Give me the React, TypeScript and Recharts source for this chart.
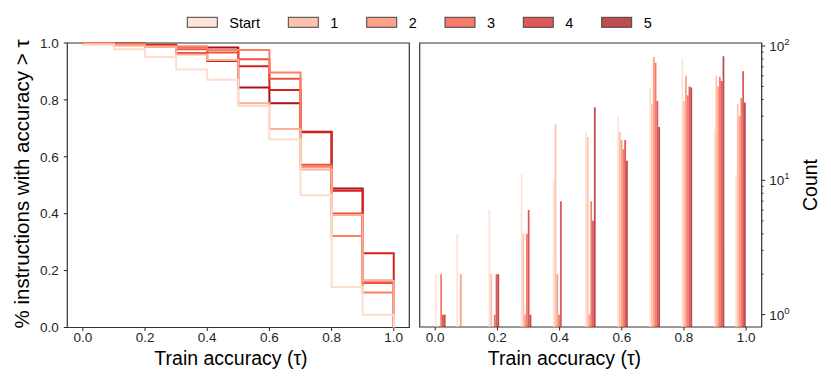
import React from 'react';
import { LineChart, Line, XAxis, YAxis, BarChart, Bar, ReferenceArea } from 'recharts';

// ---------- data ----------
const SERIES = ['Start', '1', '2', '3', '4', '5'];
const KEYS = ['s0', 's1', 's2', 's3', 's4', 's5'];
const COLORS = ['#fedbcb', '#fcaf94', '#fc8161', '#f44f39', '#d52221', '#aa1016'];

// Left panel: % instructions with accuracy > tau (step curves)
const TAU = [0, 0.1, 0.2, 0.3, 0.4, 0.5, 0.6, 0.7, 0.8, 0.9, 1.0];
const FRAC_START = [0.993, 0.978, 0.951, 0.907, 0.871, 0.779, 0.661, 0.465, 0.142, 0.045, 0];
const FRAC_1 = [0.997, 0.99, 0.987, 0.96, 0.94, 0.788, 0.698, 0.555, 0.395, 0.164, 0];
const FRAC_2 = [0.998, 0.996, 0.987, 0.987, 0.975, 0.975, 0.896, 0.565, 0.322, 0.123, 0];
const FRAC_3 = [0.998, 0.996, 0.99, 0.978, 0.967, 0.943, 0.874, 0.572, 0.401, 0.156, 0];
const FRAC_4 = [0.999, 0.996, 0.992, 0.964, 0.937, 0.918, 0.835, 0.686, 0.481, 0.261, 0];
const FRAC_5 = [0.999, 0.998, 0.994, 0.987, 0.984, 0.844, 0.788, 0.688, 0.489, 0.164, 0];
const FRACS = [FRAC_START, FRAC_1, FRAC_2, FRAC_3, FRAC_4, FRAC_5];

// Right panel: histogram (29 bins on [0,1]); only non-empty bins listed by center
const BIN_CENTERS = [0.0172, 0.0862, 0.1897, 0.2931, 0.3966, 0.5, 0.6034, 0.7069, 0.8103, 0.9138, 0.9828];
const COUNT_START = [2, 4, 6, 11, 10, 23, 30, 49, 80, 24, 11];
const COUNT_1 = [null, null, 2, 4, 26, 21, 23, 37, 39, 60, 37];
const COUNT_2 = [null, 2, null, 1, 2, 1, 20, 83, 60, 50, 30];
const COUNT_3 = [2, null, 1, 4, 1, 7, 17, 75, 43, 59, 41];
const COUNT_4 = [1, null, 2, 6, 7, 5, 20, 39, 50, 55, 65];
const COUNT_5 = [1, null, 2, 1, null, 35, 14, 25, 49, 84, 38];
const COUNTS = [COUNT_START, COUNT_1, COUNT_2, COUNT_3, COUNT_4, COUNT_5];

const X_TICKS = [0, 0.2, 0.4, 0.6, 0.8, 1.0];
const Y_TICKS_LEFT = [0, 0.2, 0.4, 0.6, 0.8, 1.0];
const Y_TICKS_LOG = [1, 2, 3, 4, 5, 6, 7, 8, 9, 10, 20, 30, 40, 50, 60, 70, 80, 90, 100];

const lineData = TAU.map((t, i) => {
  const row: any = { x: t };
  KEYS.forEach((k, j) => (row[k] = FRACS[j][i]));
  return row;
});
const histData = BIN_CENTERS.map((c, i) => {
  const row: any = { x: c };
  KEYS.forEach((k, j) => (row[k] = COUNTS[j][i]));
  return row;
});

// ---------- style ----------
const FONT = '"Liberation Sans", Arial, Helvetica, sans-serif';
const INK = '#262626';
const FRAME = '#333333';
const LEGEND_X = [187.3, 288.3, 366.7, 445, 523.3, 601.7];

const tickStyle = { fill: INK, fontSize: 13.5, fontFamily: FONT };

function LogTick(props: any) {
  const { x, y, payload } = props;
  const v = payload.value;
  const e = Math.log10(v);
  const major = Math.abs(e - Math.round(e)) < 1e-6;
  return (
    <g>
      <line x1={x} x2={x + (major ? 3.5 : 2)} y1={y} y2={y} stroke={INK} strokeWidth={major ? 1 : 0.8} />
      {major && (
        <text x={x + 7.5} y={y + 5} fill={INK} fontSize={13.5} fontFamily={FONT}>
          10
          <tspan dy={-6} fontSize={9.5}>
            {Math.round(e)}
          </tspan>
        </text>
      )}
    </g>
  );
}

export default function App() {
  return (
    <div style={{ position: 'absolute', left: 0, top: 0, width: 831, height: 388, background: '#fff', fontFamily: FONT }}>
      {/* Left panel */}
      <div style={{ position: 'absolute', left: 0, top: 0 }}>
        <LineChart width={420} height={388} data={lineData} margin={{ top: 43, right: 10.7, bottom: 0, left: 0 }}>
          <XAxis
            dataKey="x"
            type="number"
            domain={[-0.05, 1.05]}
            ticks={X_TICKS}
            tickFormatter={(v: number) => v.toFixed(1)}
            height={60.5}
            axisLine={false}
            tickLine={{ stroke: INK }}
            tickSize={3.5}
            tickMargin={1.5}
            tick={tickStyle}
            interval={0}
          />
          <YAxis
            type="number"
            domain={[0, 1]}
            ticks={Y_TICKS_LEFT}
            tickFormatter={(v: number) => v.toFixed(1)}
            width={67.3}
            axisLine={false}
            tickLine={{ stroke: INK }}
            tickSize={3.5}
            tickMargin={5}
            tick={tickStyle}
            interval={0}
          />
          {[5, 4, 3, 2, 1, 0].map((j) => (
            <Line
              key={KEYS[j]}
              type="stepAfter"
              dataKey={KEYS[j]}
              stroke={COLORS[j]}
              strokeWidth={2}
              dot={false}
              isAnimationActive={false}
            />
          ))}
          <ReferenceArea x1={-0.05} x2={1.05} y1={0} y2={1} fill="none" stroke={FRAME} strokeWidth={1.2} ifOverflow="visible" />
        </LineChart>
      </div>

      {/* Right panel */}
      <div style={{ position: 'absolute', left: 410, top: 0 }}>
        <BarChart width={421} height={388} data={histData} barGap={0} margin={{ top: 43, right: 0, bottom: 0, left: 9.7 }}>
          <XAxis
            dataKey="x"
            type="number"
            domain={[-0.05, 1.05]}
            ticks={X_TICKS}
            tickFormatter={(v: number) => v.toFixed(1)}
            height={61}
            axisLine={false}
            tickLine={{ stroke: INK }}
            tickSize={3.5}
            tickMargin={1.5}
            tick={tickStyle}
            interval={0}
          />
          <YAxis
            orientation="right"
            type="number"
            scale="log"
            domain={[0.809, 105.3]}
            allowDataOverflow
            ticks={Y_TICKS_LOG}
            width={69.3}
            axisLine={false}
            tickLine={false}
            tickSize={0}
            tickMargin={0}
            tick={<LogTick />}
            interval={0}
          />
          {KEYS.map((k, j) => (
            <Bar key={k} dataKey={k} fill={COLORS[j]} fillOpacity={0.75} barSize={1.787} isAnimationActive={false} />
          ))}
          <ReferenceArea x1={-0.05} x2={1.05} y1={0.809} y2={105.3} fill="none" stroke={FRAME} strokeWidth={1.2} ifOverflow="visible" />
        </BarChart>
      </div>

      {/* Titles and legend */}
      <svg width={831} height={388} style={{ position: 'absolute', left: 0, top: 0, pointerEvents: 'none' }}>
        <text x={21} y={184} transform="rotate(-90 21 184)" textAnchor="middle" dominantBaseline="central" fontSize={20.5} fill="#000" fontFamily={FONT}>
          % instructions with accuracy &gt; τ
        </text>
        <text x={231} y={365} textAnchor="middle" fontSize={19.5} fill="#000" fontFamily={FONT}>
          Train accuracy (τ)
        </text>
        <text x={564.5} y={365} textAnchor="middle" fontSize={19.5} fill="#000" fontFamily={FONT}>
          Train accuracy (τ)
        </text>
        <text x={810} y={185} transform="rotate(-90 810 185)" textAnchor="middle" dominantBaseline="central" fontSize={19.5} fill="#000" fontFamily={FONT}>
          Count
        </text>
        {SERIES.map((name, j) => (
          <g key={name}>
            <rect x={LEGEND_X[j]} y={17.3} width={30} height={10} fill={COLORS[j]} fillOpacity={0.75} stroke="#444" strokeWidth={1} />
            <text x={LEGEND_X[j] + 42} y={27.5} fontSize={14.5} fill="#000" fontFamily={FONT}>
              {name}
            </text>
          </g>
        ))}
      </svg>
    </div>
  );
}
